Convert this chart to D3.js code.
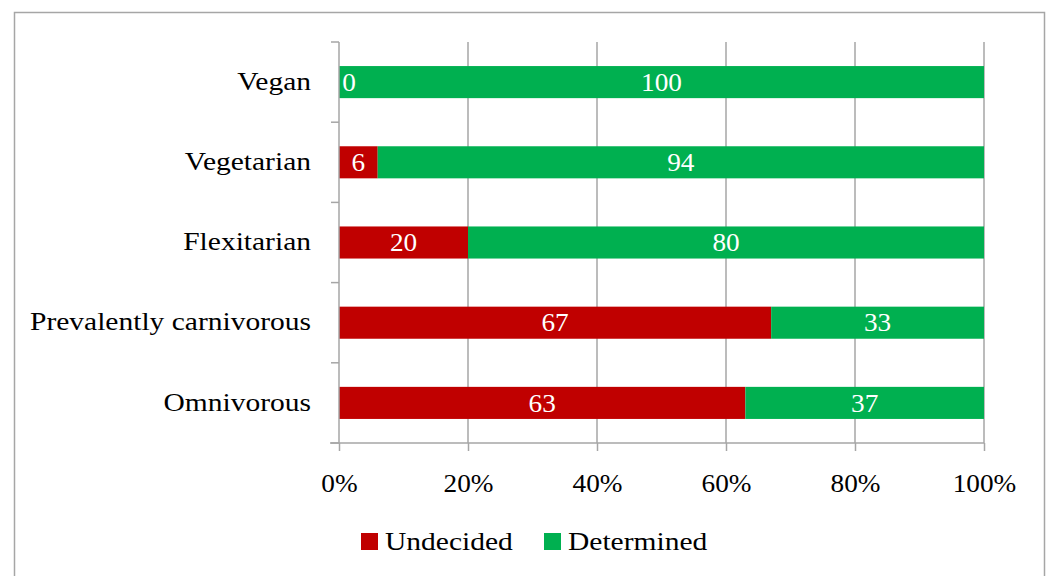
<!DOCTYPE html>
<html>
<head>
<meta charset="utf-8">
<script src="https://cdn.jsdelivr.net/npm/d3@7/dist/d3.min.js"></script>
<style>
  html, body { margin: 0; padding: 0; background: #fff; }
  svg { display: block; }
  text { font-family: "Liberation Serif", "DejaVu Serif", serif; }
</style>
</head>
<body>
<svg id="chart" width="1049" height="576"></svg>
<script>
// Diet groups, top to bottom
const categories = ["Vegan", "Vegetarian", "Flexitarian", "Prevalently carnivorous", "Omnivorous"];
// Share of respondents (%)
const undecided  = [0, 6, 20, 67, 63];
const determined = [100, 94, 80, 33, 37];
const seriesNames = ["Undecided", "Determined"];
const seriesColors = ["#C00000", "#00B050"];
const tickValues = [0, 0.2, 0.4, 0.6, 0.8, 1.0];

const svg = d3.select("#chart");
const FONT_SIZE = 25;

// stretch a text selection horizontally to the book-face width
function widen(factor) {
  return sel => sel.each(function () {
    const len = this.getComputedTextLength();
    if (len > 0) {
      d3.select(this).attr("textLength", len * factor).attr("lengthAdjust", "spacingAndGlyphs");
    }
  });
}
const widenWords = widen(1.18);
const widenDigits = widen(1.09);

// chart frame
svg.append("rect")
  .attr("x", 14.5).attr("y", 12.5)
  .attr("width", 1030).attr("height", 600)
  .attr("fill", "#fff").attr("stroke", "#A6A6A6").attr("stroke-width", 1.5);

const plotLeft = 339, plotRight = 984, plotTop = 42, plotBottom = 443;

const x = d3.scaleLinear().domain([0, 1]).range([plotLeft, plotRight]);
const y = d3.scaleBand().domain(categories).range([plotTop, plotBottom]).paddingInner(0.6).paddingOuter(0.3);
const yOuter = d3.scaleBand().domain(categories).range([plotTop, plotBottom]);

const rows = categories.map((c, i) => ({
  cat: c,
  segs: [
    { key: 0, v: undecided[i], x0: 0, x1: undecided[i] },
    { key: 1, v: determined[i], x0: undecided[i], x1: undecided[i] + determined[i] }
  ]
}));

// vertical gridlines
svg.append("g").selectAll("line").data(tickValues.slice(1)).join("line")
  .attr("x1", d => x(d)).attr("x2", d => x(d))
  .attr("y1", plotTop).attr("y2", plotBottom)
  .attr("stroke", "#A6A6A6").attr("stroke-width", 1.5);

// bars
const g = svg.append("g");
rows.forEach(r => {
  r.segs.forEach(s => {
    g.append("rect")
      .attr("x", x(s.x0 / 100))
      .attr("y", y(r.cat))
      .attr("width", x(s.x1 / 100) - x(s.x0 / 100))
      .attr("height", y.bandwidth())
      .attr("fill", seriesColors[s.key]);
  });
});

// y axis (left) with ticks at category boundaries
const yAxisG = svg.append("g");
yAxisG.append("line")
  .attr("x1", plotLeft).attr("x2", plotLeft).attr("y1", plotTop).attr("y2", plotBottom)
  .attr("stroke", "#A6A6A6").attr("stroke-width", 1.5);
const boundaries = categories.map(c => yOuter(c)).concat([plotBottom]);
yAxisG.selectAll("line.tk").data(boundaries).join("line").attr("class", "tk")
  .attr("x1", plotLeft - 8).attr("x2", plotLeft).attr("y1", d => d).attr("y2", d => d)
  .attr("stroke", "#A6A6A6").attr("stroke-width", 1.5);
yAxisG.selectAll("text").data(categories).join("text")
  .attr("x", 311).attr("y", d => y(d) + y.bandwidth() / 2 - 1)
  .attr("dy", "0.35em").attr("text-anchor", "end")
  .attr("font-size", FONT_SIZE).attr("fill", "#000")
  .text(d => d)
  .call(widenWords);

// x axis (bottom)
const xAxisG = svg.append("g").attr("transform", `translate(0,${plotBottom})`);
const xAxis = d3.axisBottom(x).tickValues(tickValues).tickSize(8).tickSizeOuter(0)
  .tickFormat(d3.format(".0%"));
xAxisG.call(xAxis);
xAxisG.select(".domain").attr("d", `M${plotLeft - 9},0H${plotRight}`)
  .attr("stroke", "#A6A6A6").attr("stroke-width", 1.5);
xAxisG.selectAll(".tick line").attr("stroke", "#A6A6A6").attr("stroke-width", 1.5);
xAxisG.selectAll(".tick text")
  .attr("y", 40).attr("dy", "0.35em")
  .attr("font-family", "Liberation Serif, DejaVu Serif, serif")
  .attr("font-size", FONT_SIZE).attr("fill", "#000")
  .call(widenDigits);

// value labels
rows.forEach(r => {
  r.segs.forEach(s => {
    const cx = (x(s.x0 / 100) + x(s.x1 / 100)) / 2;
    g.append("text")
      .attr("x", Math.max(cx, x(s.x0 / 100) + 10))
      .attr("y", y(r.cat) + y.bandwidth() / 2)
      .attr("dy", "0.35em").attr("text-anchor", "middle")
      .attr("font-size", FONT_SIZE).attr("fill", "#fff")
      .text(s.v)
      .call(widenDigits);
  });
});

// legend
const legend = svg.append("g").attr("transform", "translate(361,533)");
const lx = [0, 183];
seriesNames.forEach((n, i) => {
  legend.append("rect").attr("x", lx[i]).attr("y", 0).attr("width", 17).attr("height", 17)
    .attr("fill", seriesColors[i]);
  legend.append("text").attr("x", lx[i] + 24).attr("y", 8.5).attr("dy", "0.35em")
    .attr("font-size", FONT_SIZE).attr("fill", "#000").text(n)
    .call(widenWords);
});
</script>
</body>
</html>
